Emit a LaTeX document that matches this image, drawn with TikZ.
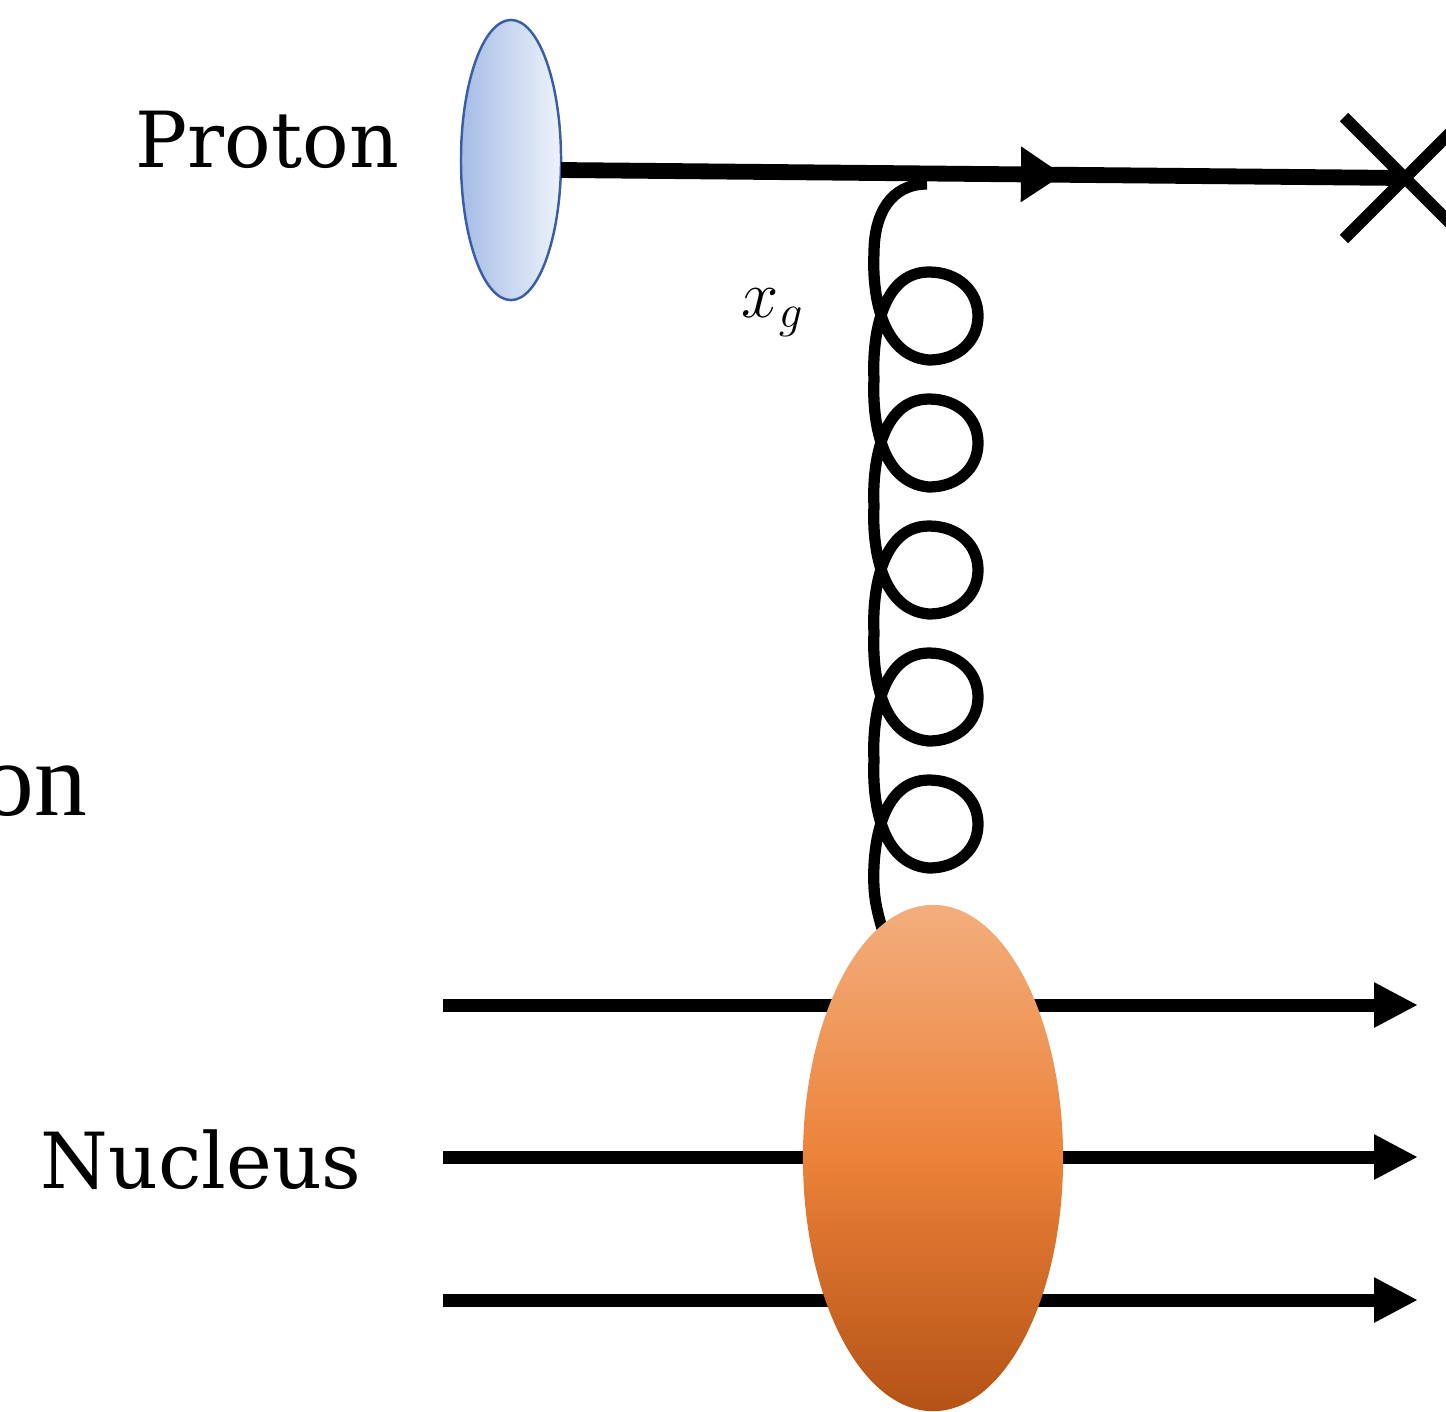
\RequirePackage{fix-cm}
\documentclass[tikz,border=0pt]{standalone}
\usepackage{fontspec}
\setmainfont{DejaVu Serif}
\newfontfamily\timesfont{Liberation Serif}
\usetikzlibrary{positioning, arrows.meta, shapes.geometric, shapes.misc, decorations.markings}
\definecolor{protL}{RGB}{166,188,230}
\definecolor{protR}{RGB}{238,242,251}
\definecolor{protEdge}{RGB}{58,94,164}
\definecolor{nucTop}{RGB}{243,174,125}
\definecolor{nucMid}{RGB}{236,130,57}
\definecolor{nucBot}{RGB}{180,82,22}

\begin{document}
\begin{tikzpicture}[
      x=0.01cm, y=-0.01cm,
      proton/.style={ellipse, draw=protEdge, line width=0.7pt, left color=protL,
        right color=protR, minimum width=1cm, minimum height=2.8cm, inner sep=0pt},
      nucleus/.style={ellipse, top color=nucTop, bottom color=nucBot, middle color=nucMid,
        minimum width=2.6cm, minimum height=5.06cm, inner sep=0pt},
      beam/.style={line width=3.7pt, -{Triangle[length=12.5pt,width=12pt]}},
      gluon/.style={line width=3.2pt},
      lab/.style={font=\fontsize{22}{26}\selectfont, inner sep=0pt}
    ]
    \useasboundingbox (0,0) rectangle (1446,1411);

    % labels
    \node[lab, anchor=base west] (ptext) at (135,167) {Proton};
    \node[lab, anchor=base west] (ntext) at (40,1188) {Nucleus};
    \node[font=\fontsize{19}{22}\selectfont] (xg) at (773,313) {$x_g$};
    \node[font=\timesfont\fontsize{30}{34}\selectfont, inner sep=0pt, anchor=base east]
      (on) at (88,815) {on};

    % proton and its line
    \node[proton] (pr) at (511,160) {};
    \coordinate (pin) at (561,170);
    \node[draw, cross out, line width=3.4pt, minimum size=1.1cm, inner sep=0pt] (cr) at (1405,178) {};
    \draw[line width=4.5pt, postaction={decorate},
      decoration={markings, mark=at position 0.595 with {\arrow{Triangle[length=12pt,width=15pt]}}}]
      (pin) -- (cr.center);

    % nucleus lines
    \foreach \y [count=\i] in {1005,1157,1300} {
      \coordinate (a\i) at (443,\y);
      \coordinate (b\i) at (1418,\y);
      \draw[beam] (a\i) -- (b\i);
    }

    % gluon
    \coordinate (gtop) at (927,184);
    \coordinate (gbot) at (884,935);
    \draw[gluon] (gtop) .. controls (890,184) and (874,215) .. (874,253)
      \foreach \c in {316,443,570,697,824} {
        .. controls (872,\c-25) and (880,\c+40) .. (929,\c+44)
        .. controls (958,\c+44) and (978,\c+25) .. (978,\c)
        .. controls (978,\c-25) and (958,\c-44) .. (929,\c-44)
        .. controls (880,\c-44) and (872,\c+25) .. (874,\c+63)
      }
      .. controls (875,905) and (879,918) .. (gbot);

    % nucleus
    \node[nucleus] (nuc) at (933,1158) {};

\end{tikzpicture}
\end{document}
